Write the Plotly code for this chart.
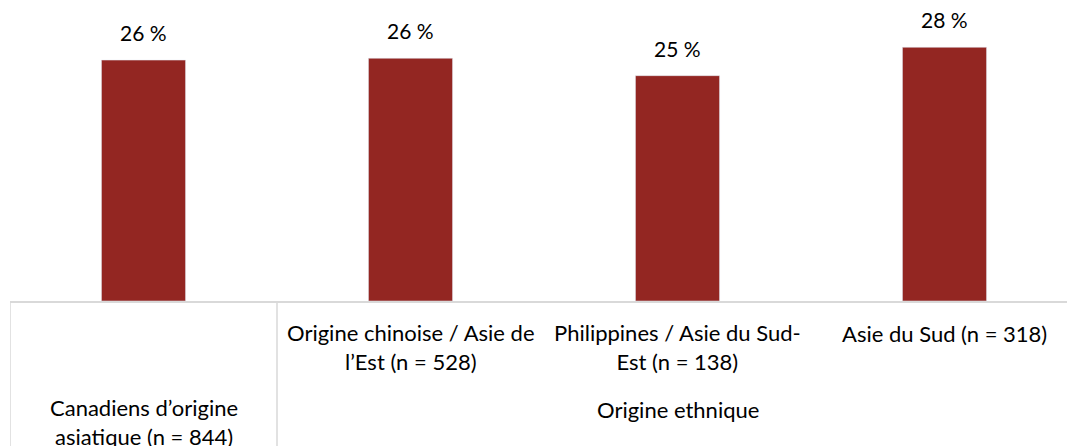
import plotly.graph_objects as go

categories = ["Canadiens d’origine asiatique (n = 844)",
              "Origine chinoise / Asie de l’Est (n = 528)",
              "Philippines / Asie du Sud-Est (n = 138)",
              "Asie du Sud (n = 318)"]
cat_labels = ["Canadiens d’origine<br>asiatique (n = 844)",
              "Origine chinoise / Asie de<br>l’Est (n = 528)",
              "Philippines / Asie du Sud-<br>Est (n = 138)",
              "Asie du Sud (n = 318)"]
values = [26.3, 26.5, 24.6, 27.7]
value_labels = ["26 %", "26 %", "25 %", "28 %"]
group_label = "Origine ethnique"

BAR = "#932622"
GRID = "#d9d9d9"
FONT = "Lato"
FS = 21
FS_CAT = 22

W, H = 1067, 446
ML, MT, MB = 10, 20, 145
plot_h = H - MT - MB
px_per_unit = 9.16
cat_w = 267.0
plot_w = W - ML

x = list(range(len(categories)))
fig = go.Figure(go.Bar(x=x, y=values, marker_color=BAR, width=0.315,
                       hoverinfo="skip"))

ann = []
for i, (v, t) in enumerate(zip(values, value_labels)):
    ann.append(dict(x=i, y=v, xref="x", yref="y", text=t, showarrow=False,
                    yanchor="bottom", yshift=13, font=dict(size=FS, color="#000000", family=FONT)))

def py(p):
    return -((p - (H - MB)) / plot_h)

cat_y = [422, 347, 347, 333]
for i, (lab, yy) in enumerate(zip(cat_labels, cat_y)):
    ann.append(dict(x=i, y=py(yy), xref="x", yref="paper", text=lab, showarrow=False,
                    yanchor="middle", xanchor="center",
                    font=dict(size=FS_CAT, color="#000000", family=FONT)))
ann.append(dict(x=2, y=py(409), xref="x", yref="paper", text=group_label, showarrow=False,
                yanchor="middle", xanchor="center",
                font=dict(size=FS_CAT, color="#000000", family=FONT)))

shapes = []
for xb in [-0.5, 0.5]:
    shapes.append(dict(type="line", xref="x", yref="paper", x0=xb, x1=xb,
                       y0=0, y1=-(MB + 5) / plot_h, line=dict(color=GRID, width=1.5)))

fig.update_layout(
    width=W, height=H,
    margin=dict(l=ML, r=0, t=MT, b=MB),
    paper_bgcolor="white", plot_bgcolor="white",
    showlegend=False,
    annotations=ann, shapes=shapes,
    xaxis=dict(range=[-0.5, -0.5 + plot_w / cat_w], showticklabels=False, showgrid=False,
               zeroline=False, showline=True, linecolor=GRID, linewidth=1.5, ticks=""),
    yaxis=dict(range=[0, plot_h / px_per_unit], visible=False),
    font=dict(family=FONT),
)

fig.write_html("out.html", config={"displayModeBar": False},
               post_script="document.body.style.margin='0';document.body.style.overflow='hidden';")
